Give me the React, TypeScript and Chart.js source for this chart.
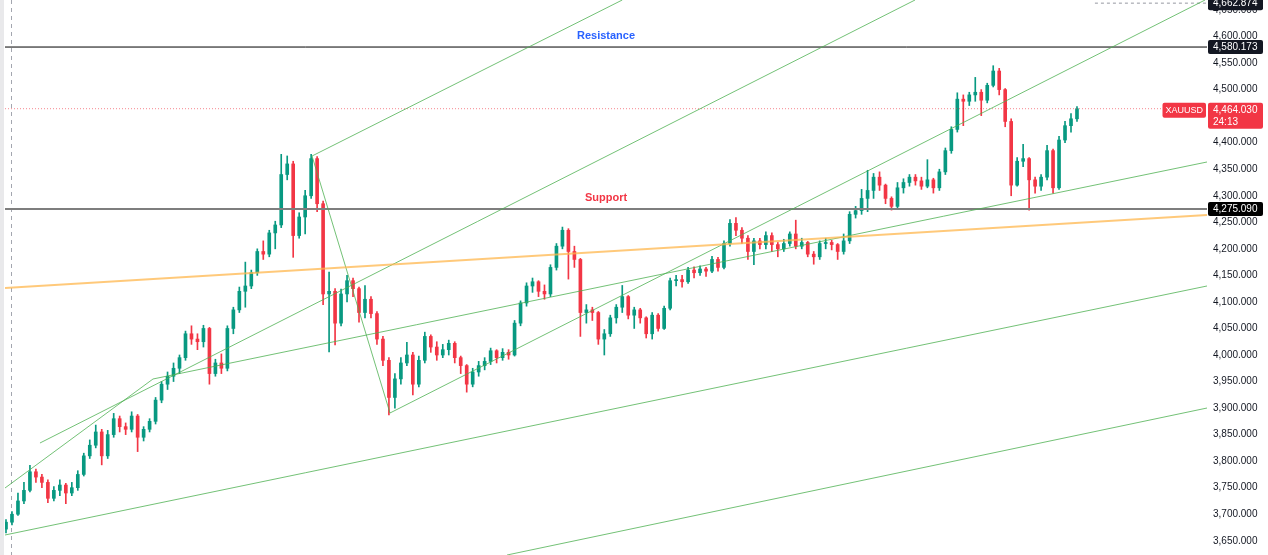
import React, { useEffect, useRef } from 'react';
import { Chart, registerables } from 'chart.js';

Chart.register(...registerables);

// ---- Candle data (XAUUSD), one candle per slot ----
const firstOpen = 3672;
const closes = [
  3685, 3700, 3725, 3745, 3780, 3770, 3760, 3730, 3745, 3755,
  3740, 3750, 3775, 3810, 3830, 3855, 3810, 3850, 3880, 3865,
  3860, 3885, 3845, 3860, 3875, 3915, 3945, 3960, 3975, 3995,
  4040, 4030, 4025, 4050, 3965, 3985, 3975, 4050, 4085, 4120,
  4130, 4155, 4195, 4190, 4230, 4245, 4340, 4360, 4225, 4260,
  4300, 4370, 4285, 4115, 4120, 4060, 4115, 4140, 4125, 4080,
  4105, 4078, 4030, 3990, 3920, 3955, 3985, 4000, 3945, 3990,
  4035, 4015, 4000, 4010, 4022, 3995, 3980, 3945, 3968, 3980,
  3988, 4008, 3995, 4005, 4000, 4060, 4098, 4130, 4138, 4120,
  4115, 4165, 4205, 4235, 4195, 4180, 4080, 4085, 4080, 4030,
  4040, 4070, 4090, 4110, 4075, 4085, 4070, 4040, 4075, 4050,
  4088, 4140, 4142, 4138, 4160, 4155, 4162, 4158, 4180, 4165,
  4210, 4248, 4235, 4220, 4195, 4215, 4208, 4225, 4208, 4200,
  4210, 4228, 4205, 4212, 4190, 4185, 4210, 4212, 4208, 4195,
  4215, 4265, 4272, 4295, 4310, 4335, 4320, 4295, 4280, 4315,
  4325, 4335, 4328, 4318, 4330, 4315, 4345, 4385, 4425, 4482,
  4478, 4490, 4495, 4480, 4508, 4535, 4500, 4440, 4320, 4365,
  4370, 4330, 4318, 4335, 4385, 4315, 4405, 4432, 4445, 4464,
];
const highs = [
  3690, 3705, 3740, 3760, 3792, 3785, 3775, 3765, 3752, 3765,
  3758, 3760, 3782, 3815, 3840, 3868, 3860, 3858, 3890, 3885,
  3872, 3893, 3888, 3865, 3880, 3920, 3950, 3968, 3985, 4000,
  4045, 4055, 4040, 4056, 4052, 3992, 4002, 4055, 4090, 4128,
  4175, 4160, 4200, 4215, 4235, 4252, 4378, 4375, 4365, 4268,
  4310, 4378, 4374, 4290, 4156, 4125, 4124, 4150, 4145, 4128,
  4131, 4110, 4082, 4035, 3995, 3965, 3995, 4024, 4005, 3998,
  4043, 4038, 4025, 4020, 4028, 4025, 3998, 3982, 3975, 3988,
  3995, 4013, 4010, 4012, 4010, 4065, 4102, 4136, 4145, 4140,
  4132, 4170, 4210, 4241, 4238, 4205, 4182, 4095, 4090, 4082,
  4048, 4075, 4095, 4131, 4112, 4090, 4088, 4072, 4080, 4078,
  4092, 4145, 4150, 4150, 4165, 4166, 4168, 4165, 4186, 4184,
  4215, 4255, 4259, 4240, 4225, 4220, 4220, 4232, 4230, 4212,
  4218, 4232, 4254, 4220, 4214, 4195, 4215, 4220, 4216, 4210,
  4228, 4270, 4280, 4312, 4348, 4342, 4345, 4322, 4298, 4325,
  4332, 4340, 4340, 4335, 4368, 4333, 4350, 4390, 4430, 4494,
  4490, 4495, 4523, 4500, 4512, 4545, 4540, 4502, 4445, 4372,
  4397, 4372, 4335, 4340, 4395, 4388, 4412, 4440, 4455, 4468,
];
const lows = [
  3665, 3680, 3698, 3720, 3742, 3760, 3750, 3722, 3725, 3735,
  3720, 3735, 3745, 3772, 3805, 3825, 3793, 3805, 3845, 3855,
  3850, 3855, 3818, 3838, 3855, 3870, 3910, 3935, 3950, 3965,
  3990, 4020, 4010, 4015, 3945, 3960, 3965, 3970, 4040, 4080,
  4090, 4125, 4150, 4180, 4185, 4200, 4240, 4330, 4184, 4220,
  4228, 4295, 4270, 4095, 4006, 4019, 4055, 4100, 4110, 4062,
  4070, 4070, 4020, 3980, 3887, 3900, 3945, 3980, 3925, 3940,
  3985, 4005, 3990, 3995, 4000, 3985, 3965, 3930, 3940, 3960,
  3972, 3982, 3985, 3990, 3992, 3998, 4055, 4092, 4118, 4110,
  4105, 4110, 4160, 4200, 4143, 4165, 4035, 4060, 4065, 4020,
  4000, 4035, 4060, 4080, 4068, 4050, 4060, 4032, 4030, 4045,
  4048, 4085, 4130, 4128, 4135, 4145, 4150, 4148, 4155, 4158,
  4162, 4205, 4225, 4210, 4180, 4170, 4200, 4200, 4195, 4185,
  4195, 4205, 4200, 4200, 4185, 4171, 4180, 4200, 4198, 4180,
  4190, 4210, 4258, 4265, 4270, 4295, 4310, 4285, 4273, 4275,
  4305, 4318, 4320, 4312, 4315, 4305, 4310, 4340, 4380, 4420,
  4432, 4470, 4478, 4451, 4475, 4505, 4490, 4430, 4300, 4318,
  4355, 4273, 4305, 4310, 4330, 4305, 4312, 4400, 4420, 4440,
];

// ---- Horizontal levels ----
const resistanceLevel = 4580.173;
const supportLevel = 4275.09;
const lastPrice = 4464.03;
const topLevel = 4662.874;
const countdown = '24:13';
const symbol = 'XAUUSD';

// ---- Axis ----
const yMin = 3623.2;
const yMax = 4668.8;
const xMin = -0.167;
const xMax = 200.73;
const yTickValues = [
  3650, 3700, 3750, 3800, 3850, 3900, 3950, 4000, 4050, 4100,
  4150, 4200, 4250, 4300, 4350, 4400, 4450, 4500, 4550, 4600, 4650,
];

// ---- Drawn trend lines: [candle index, price] ----
const orangeLine = [[-0.167, 4126.2], [200.73, 4263.7]];
const greenUpperRay = [[51.15, 4374.9], [103.0, 4668.8]];
const greenDrop = [[51.15, 4374.9], [64.18, 3890.7]];
const greenFromLow = [[64.18, 3890.7], [200.4, 4668.8]];
const greenChannelMid = [[5.68, 3834.2], [151.93, 4668.8]];
const greenBend = [[-0.167, 3749.4], [24.57, 3954.8], [200.73, 4363.6]];
const greenLower = [[-0.167, 3660.9], [200.73, 4130.0]];
const greenLowest = [[83.74, 3623.2], [200.73, 3900.1]];
const topLevelStart = 182;

const UP = '#089981';
const DOWN = '#f23645';
const GREEN = 'rgba(76,175,80,0.78)';
const FONT = '"Liberation Sans", Arial, sans-serif';

const fmt = (v: number) =>
  v.toLocaleString('en-US', { minimumFractionDigits: 3, maximumFractionDigits: 3 });

function lineDs(pts: number[][], color: string, width = 1, dash: number[] = []) {
  return {
    type: 'line' as const,
    data: pts.map(([x, y]) => ({ x, y })),
    borderColor: color,
    borderWidth: width,
    borderDash: dash,
    pointRadius: 0,
    fill: false,
    tension: 0,
    order: 0,
  };
}

function roundRect(ctx: CanvasRenderingContext2D, x: number, y: number, w: number, h: number, r: number) {
  ctx.beginPath();
  ctx.moveTo(x + r, y);
  ctx.lineTo(x + w - r, y);
  ctx.quadraticCurveTo(x + w, y, x + w, y + r);
  ctx.lineTo(x + w, y + h - r);
  ctx.quadraticCurveTo(x + w, y + h, x + w - r, y + h);
  ctx.lineTo(x + r, y + h);
  ctx.quadraticCurveTo(x, y + h, x, y + h - r);
  ctx.lineTo(x, y + r);
  ctx.quadraticCurveTo(x, y, x + r, y);
  ctx.closePath();
}

const overlay = {
  id: 'overlay',
  beforeDraw(chart: any) {
    const { ctx, width, height } = chart;
    ctx.save();
    ctx.fillStyle = '#ffffff';
    ctx.fillRect(0, 0, width, height);
    ctx.fillStyle = '#e9e9eb';
    ctx.fillRect(0, 0, 4, height);
    ctx.strokeStyle = '#a3a6af';
    ctx.lineWidth = 1;
    ctx.setLineDash([4, 4]);
    ctx.beginPath();
    ctx.moveTo(11.5, 0);
    ctx.lineTo(11.5, height);
    ctx.stroke();
    ctx.restore();
  },
  afterDraw(chart: any) {
    const { ctx, chartArea } = chart;
    const ys = chart.scales.y;
    const right = chartArea.right;
    const mid = (chartArea.left + chartArea.right) / 2;
    ctx.save();

    // line captions
    ctx.textAlign = 'center';
    ctx.textBaseline = 'middle';
    ctx.font = `bold 11px ${FONT}`;
    ctx.fillStyle = '#2962ff';
    ctx.fillText('Resistance', mid, ys.getPixelForValue(resistanceLevel) - 11);
    ctx.fillStyle = '#f23645';
    ctx.fillText('Support', mid, ys.getPixelForValue(supportLevel) - 11);

    // price boxes on the axis
    ctx.textAlign = 'left';
    ctx.font = `10px ${FONT}`;
    const box = (v: number, bg: string) => {
      const y = ys.getPixelForValue(v);
      ctx.fillStyle = bg;
      roundRect(ctx, right + 1, y - 7, 55, 14, 2);
      ctx.fill();
      ctx.fillStyle = '#ffffff';
      ctx.fillText(fmt(v), right + 6, y + 0.5);
    };
    box(topLevel, '#131722');
    box(resistanceLevel, '#131722');
    box(supportLevel, '#000000');

    const py = ys.getPixelForValue(lastPrice);
    ctx.fillStyle = '#f23645';
    roundRect(ctx, right + 1, py - 6, 55, 26, 2);
    ctx.fill();
    ctx.font = `9px ${FONT}`;
    const sw = ctx.measureText(symbol).width + 6;
    ctx.fillStyle = '#f23645';
    roundRect(ctx, right - 1 - sw, py - 6, sw, 15, 2);
    ctx.fill();
    ctx.fillStyle = '#ffffff';
    ctx.textAlign = 'center';
    ctx.fillText(symbol, right - 1 - sw / 2, py + 1.5);
    ctx.textAlign = 'left';
    ctx.font = `10px ${FONT}`;
    ctx.fillText(fmt(lastPrice), right + 6, py + 1.5);
    ctx.fillText(countdown, right + 6, py + 13.5);
    ctx.restore();
  },
};

export default function App() {
  const ref = useRef<HTMLCanvasElement | null>(null);

  useEffect(() => {
    document.body.style.margin = '0';
    const opens = closes.map((c, i) => (i === 0 ? firstOpen : closes[i - 1]));
    const colors = closes.map((c, i) => (c >= opens[i] ? UP : DOWN));

    const chart = new Chart(ref.current as HTMLCanvasElement, {
      type: 'bar',
      data: {
        datasets: [
          lineDs(orangeLine, 'rgba(255,183,77,0.75)', 2),
          lineDs(greenUpperRay, GREEN),
          lineDs(greenDrop, GREEN),
          lineDs(greenFromLow, GREEN),
          lineDs(greenChannelMid, GREEN),
          lineDs(greenBend, GREEN),
          lineDs(greenLower, GREEN),
          lineDs(greenLowest, GREEN),
          lineDs([[xMin, resistanceLevel], [xMax, resistanceLevel]], '#000000', 1),
          lineDs([[xMin, supportLevel], [xMax, supportLevel]], '#7e7e7e', 2),
          lineDs([[xMin, lastPrice], [xMax, lastPrice]], 'rgba(242,54,69,0.6)', 1, [1, 2]),
          lineDs([[topLevelStart, topLevel], [xMax, topLevel]], '#9598a1', 1, [3, 3]),
          {
            type: 'bar' as const,
            data: closes.map((c, i) => ({ x: i, y: [lows[i], highs[i]] })),
            backgroundColor: colors,
            barThickness: 1,
            grouped: false,
            borderWidth: 0,
            order: 3,
          } as any,
          {
            type: 'bar' as const,
            data: closes.map((c, i) => ({ x: i, y: [opens[i], c] })),
            backgroundColor: colors,
            barThickness: 3,
            minBarLength: 1,
            grouped: false,
            borderWidth: 0,
            order: 2,
          } as any,
        ] as any,
      },
      options: {
        animation: false,
        responsive: true,
        maintainAspectRatio: false,
        layout: { padding: { left: 5, right: 0, top: 0, bottom: 0 } },
        plugins: { legend: { display: false }, tooltip: { enabled: false } },
        scales: {
          x: {
            type: 'linear',
            min: xMin,
            max: xMax,
            display: false,
            offset: false,
            grid: { display: false },
          },
          y: {
            type: 'linear',
            position: 'right',
            min: yMin,
            max: yMax,
            grid: { display: false, drawTicks: false },
            border: { display: false },
            afterBuildTicks: (scale: any) => {
              scale.ticks = yTickValues.map((v) => ({ value: v }));
            },
            afterFit: (scale: any) => {
              scale.width = 61;
              scale.paddingTop = 0;
              scale.paddingBottom = 0;
            },
            ticks: {
              padding: 6,
              color: '#131722',
              font: { family: FONT, size: 10 },
              callback: (v: any) => fmt(Number(v)),
            },
          },
        },
      } as any,
      plugins: [overlay],
    });
    return () => chart.destroy();
  }, []);

  return (
    <div style={{ width: 1268, height: 555, position: 'relative' }}>
      <canvas ref={ref} />
    </div>
  );
}
